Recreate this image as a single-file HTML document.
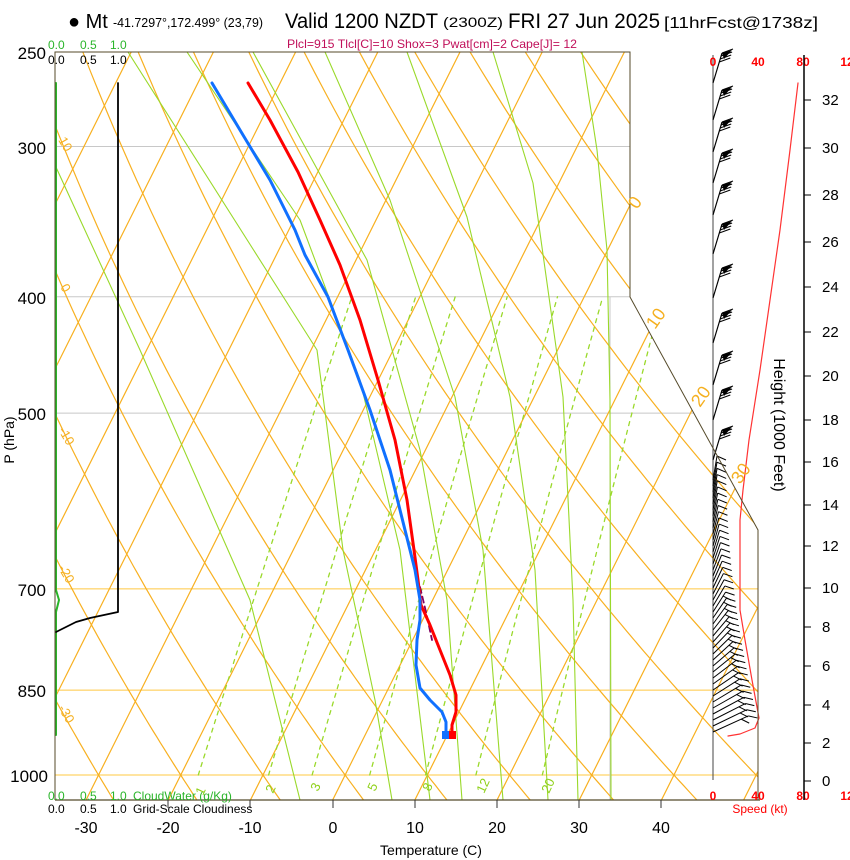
<!DOCTYPE html>
<html><head><meta charset="utf-8"><style>
html,body{margin:0;padding:0;background:#fff;}
svg{display:block;font-family:"Liberation Sans",sans-serif;}
</style></head><body>
<svg id="s" width="850" height="860" viewBox="0 0 850 860" xmlns="http://www.w3.org/2000/svg">
<defs><clipPath id="cp"><polygon points="55,52 630,52 630,297 758,530 758,800 55,800"/></clipPath></defs>
<rect width="850" height="860" fill="#fff"/>
<g id="grid" clip-path="url(#cp)"></g>
<g id="fg"></g>
<!-- frame -->
<polyline points="55,800 55,52 630,52 630,297 758,530 758,800" fill="none" stroke="#554a2a" stroke-width="1"/>
<line x1="55" y1="800" x2="760" y2="800" stroke="#554a2a" stroke-width="1.2"/>
<!-- title -->
<text x="68" y="28" font-size="20">● Mt</text>
<text x="113" y="27" font-size="13" textLength="150" lengthAdjust="spacingAndGlyphs">-41.7297°,172.499° (23,79)</text>
<text x="285" y="28" font-size="21" textLength="153" lengthAdjust="spacingAndGlyphs">Valid 1200 NZDT</text>
<text x="443" y="27" font-size="14" textLength="60" lengthAdjust="spacingAndGlyphs">(2300Z)</text>
<text x="508" y="28" font-size="21" textLength="152" lengthAdjust="spacingAndGlyphs">FRI 27 Jun 2025</text>
<text x="664" y="28" font-size="16" textLength="154" lengthAdjust="spacingAndGlyphs">[11hrFcst@1738z]</text>
<text x="287" y="48" font-size="12" fill="#c0105a" textLength="290" lengthAdjust="spacingAndGlyphs">Plcl=915 Tlcl[C]=10 Shox=3 Pwat[cm]=2 Cape[J]= 12</text>
<!-- pressure labels -->
<g font-size="17" text-anchor="end">
<text x="46" y="59">250</text><text x="46" y="154">300</text><text x="46" y="304">400</text>
<text x="46" y="420">500</text><text x="46" y="596">700</text><text x="46" y="697">850</text><text x="48" y="782">1000</text>
</g>
<text transform="translate(14,440) rotate(-90)" font-size="14" text-anchor="middle">P (hPa)</text>
<!-- temperature labels -->
<g font-size="16" text-anchor="middle">
<text x="86" y="833">-30</text><text x="168" y="833">-20</text><text x="250" y="833">-10</text><text x="333" y="833">0</text>
<text x="415" y="833">10</text><text x="497" y="833">20</text><text x="579" y="833">30</text><text x="661" y="833">40</text>
</g>
<g stroke="#333" stroke-width="1">
<line x1="168" y1="800" x2="168" y2="808"/><line x1="250" y1="800" x2="250" y2="808"/><line x1="333" y1="800" x2="333" y2="808"/>
<line x1="415" y1="800" x2="415" y2="808"/><line x1="497" y1="800" x2="497" y2="808"/><line x1="579" y1="800" x2="579" y2="808"/><line x1="661" y1="800" x2="661" y2="808"/>
</g>
<text x="431" y="855" font-size="14" text-anchor="middle">Temperature (C)</text>
<!-- cloud scales -->
<g font-size="12" fill="#2ab52a"><text x="48" y="49">0.0</text><text x="80" y="49">0.5</text><text x="110" y="49">1.0</text>
<text x="48" y="800">0.0</text><text x="80" y="800">0.5</text><text x="110" y="800">1.0</text><text x="133" y="800">CloudWater (g/Kg)</text></g>
<g font-size="12" fill="#000"><text x="48" y="64">0.0</text><text x="80" y="64">0.5</text><text x="110" y="64">1.0</text>
<text x="48" y="813">0.0</text><text x="80" y="813">0.5</text><text x="110" y="813">1.0</text><text x="133" y="813">Grid-Scale Cloudiness</text></g>
<!-- orange labels -->
<g font-size="13" fill="#f5b020">
<text transform="translate(58,140) rotate(60)">10</text><text transform="translate(60,287) rotate(60)">0</text>
<text transform="translate(58,430) rotate(60)">-10</text><text transform="translate(58,568) rotate(60)">-20</text><text transform="translate(58,708) rotate(60)">-30</text>
</g>
<g font-size="18" fill="#f5b020">
<text transform="translate(637,210) rotate(-55)">0</text><text transform="translate(655,330) rotate(-55)">10</text>
<text transform="translate(700,408) rotate(-55)">20</text><text transform="translate(740,485) rotate(-55)">30</text>
</g>
<g font-size="13" fill="#8fd11a">
<text transform="translate(203,796) rotate(-65)">1</text><text transform="translate(273,794) rotate(-65)">2</text>
<text transform="translate(318,792) rotate(-65)">3</text><text transform="translate(375,792) rotate(-65)">5</text>
<text transform="translate(430,792) rotate(-65)">8</text><text transform="translate(484,794) rotate(-65)">12</text><text transform="translate(549,794) rotate(-65)">20</text>
</g>
<!-- right axes -->
<g font-size="12" font-weight="bold" fill="#f00" text-anchor="middle">
<text x="713" y="66">0</text><text x="758" y="66">40</text><text x="803" y="66">80</text><text x="847" y="66">12</text>
<text x="713" y="800">0</text><text x="758" y="800">40</text><text x="803" y="800">80</text><text x="847" y="800">12</text>
</g>
<text x="760" y="813" font-size="12" fill="#f00" text-anchor="middle">Speed (kt)</text>
<line x1="804" y1="55" x2="804" y2="800" stroke="#000" stroke-width="1.5"/>
<g id="hax" font-size="15"></g>
<text transform="translate(774,425) rotate(90)" font-size="16" text-anchor="middle">Height (1000 Feet)</text>
<script>
(function(){
var NS="http://www.w3.org/2000/svg";
var grid=document.getElementById('grid'),fg=document.getElementById('fg');
function el(p,tag,a){var e=document.createElementNS(NS,tag);for(var k in a)e.setAttribute(k,a[k]);p.appendChild(e);return e;}
function Y(p){return 775-522*Math.log(1000/p);}
function X(T,p){return 86+8.22*(T+30)+0.5*(800-Y(p));}
function pl(par,pts,st,w,dash){var s=pts.map(function(q){return q[0].toFixed(1)+','+q[1].toFixed(1)}).join(' ');
 var a={points:s,fill:'none',stroke:st,'stroke-width':w,'stroke-linejoin':'round','stroke-linecap':'round'};if(dash)a['stroke-dasharray']=dash;return el(par,'polyline',a);}
// horizontal lines
[[300,'#c8c8c8'],[400,'#c8c8c8'],[500,'#c8c8c8'],[700,'#ffc840'],[850,'#ffc840'],[1000,'#ffc840']].forEach(function(h){
 var y=Y(h[0]);el(grid,'line',{x1:55,x2:760,y1:y,y2:y,stroke:h[1],'stroke-width':1});});
el(grid,'line',{x1:610,x2:610,y1:297,y2:800,stroke:'#c8c8c8','stroke-width':1});
// isotherms
for(var T=-120;T<=50;T+=10){pl(grid,[[X(T,1050),Y(1050)],[X(T,240),Y(240)]],'#f8b020',1.2);}
// dry adiabats
for(var th=-60;th<=220;th+=10){var pts=[];for(var p=1050;p>=240;p-=10){var t=(th+273.15)*Math.pow(p/1000,0.286)-273.15;pts.push([X(t,p),Y(p)]);}pl(grid,pts,'#f8b020',1.2);}
// mixing ratio
[1,2,3,5,8,12,20].forEach(function(w){var pts=[];for(var p=1000;p>=400;p-=10){var e=w*p/(622+w);var l=Math.log(e/6.112);var td=243.5*l/(17.67-l);pts.push([X(td,p)-6,Y(p)]);}pl(grid,pts,'#9ad92a',1.3,'4,5');});
// moist-ish solid green (hand)
[[[55,165],[140,350],[250,600],[300,800]],
 [[128,52],[317,350],[343,550],[375,700],[392,800]],
 [[187,52],[300,220],[360,380],[400,550],[430,800]],
 [[253,52],[367,260],[420,450],[447,600],[462,800]],
 [[325,52],[390,200],[455,397],[483,550],[503,800]],
 [[407,52],[467,217],[510,397],[535,570],[548,800]],
 [[493,52],[533,183],[563,397],[573,600],[578,800]],
 [[582,52],[597,150],[607,250],[610,400],[611,800]]].forEach(function(c){pl(grid,c,'#9ad92a',1.1);});
// cloud panel
pl(fg,[[56,83],[56,590],[59,600],[56,612],[56,735]],'#2ab52a',2);
pl(fg,[[118,83],[118,612],[90,618],[76,622],[56,632]],'#000',1.8);
// parcel
pl(fg,[[420,587],[426,612],[432,640]],'#800060',1.8,'6,4');
// temperature
pl(fg,[[248,83],[270,120],[298,172],[320,220],[340,265],[360,320],[378,380],[395,440],[407,500],[414,550],[418,580],[421,605],[430,625],[440,650],[450,675],[456,695],[456,712],[452,725],[452,735]],'#f00',3);
pl(fg,[[212,83],[240,130],[270,180],[295,230],[305,255],[328,297],[348,350],[370,410],[390,470],[405,530],[415,570],[420,600],[420,620],[417,640],[416,665],[420,688],[430,700],[442,712],[446,722],[446,735]],'#1070ff',3);
el(fg,'rect',{x:449,y:731,width:7,height:8,fill:'#f00'});
el(fg,'rect',{x:442,y:731,width:7,height:8,fill:'#1070ff'});
// wind panel
el(fg,'line',{x1:713,y1:55,x2:713,y2:780,stroke:'#444','stroke-width':1});
el(fg,'line',{x1:758,y1:530,x2:758,y2:780,stroke:'#444','stroke-width':1});
pl(fg,[[798,83],[790,150],[780,230],[770,300],[760,370],[749,440],[743,490],[740,520],[740,560],[740,610],[745,640],[752,680],[759,718],[755,728],[740,734],[728,736]],'#f33',1.2);
// upper barbs
[83,120,152,183,215,254,298,343,385,420,460].forEach(function(y){
 el(fg,'line',{x1:713,y1:y,x2:722,y2:y-30,stroke:'#000','stroke-width':1.2});
 for(var i=0;i<4;i++){var yy=y-30+i*3;el(fg,'line',{x1:722-i*0.9,y1:yy,x2:733-i*0.9,y2:yy-4,stroke:'#000','stroke-width':1});}
 el(fg,'polygon',{points:(722)+','+(y-30)+' 732,'+(y-33)+' 724,'+(y-24),fill:'#000'});
});
// lower dense barbs
for(var y=480;y<=735;y+=6){var f=(y-480)/255;var dx=4+f*f*32,dy=24-f*8;
 el(fg,'line',{x1:713,y1:y,x2:713+dx,y2:y-dy,stroke:'#000','stroke-width':1});
 el(fg,'line',{x1:713+dx,y1:y-dy,x2:713+dx+9,y2:y-dy+4-f*2,stroke:'#000','stroke-width':1});
 if(f>0.5)el(fg,'line',{x1:713+dx*0.8,y1:y-dy*0.8,x2:713+dx*0.8+8,y2:y-dy*0.8+4,stroke:'#000','stroke-width':1});}
// height axis
var hax=document.getElementById('hax');
var hy=[781,743,705,666,627,588,546,505,462,420,376,332,287,242,195,148,100];
hy.forEach(function(y,i){el(hax,'line',{x1:804,x2:811,y1:y,y2:y,stroke:'#000','stroke-width':1});});
})();
</script>
<g font-size="15">
<text x="822" y="786">0</text><text x="822" y="748">2</text><text x="822" y="710">4</text><text x="822" y="671">6</text>
<text x="822" y="632">8</text><text x="822" y="593">10</text><text x="822" y="551">12</text><text x="822" y="510">14</text>
<text x="822" y="467">16</text><text x="822" y="425">18</text><text x="822" y="381">20</text><text x="822" y="337">22</text>
<text x="822" y="292">24</text><text x="822" y="247">26</text><text x="822" y="200">28</text><text x="822" y="153">30</text><text x="822" y="105">32</text>
</g>
</svg>
</body></html>
